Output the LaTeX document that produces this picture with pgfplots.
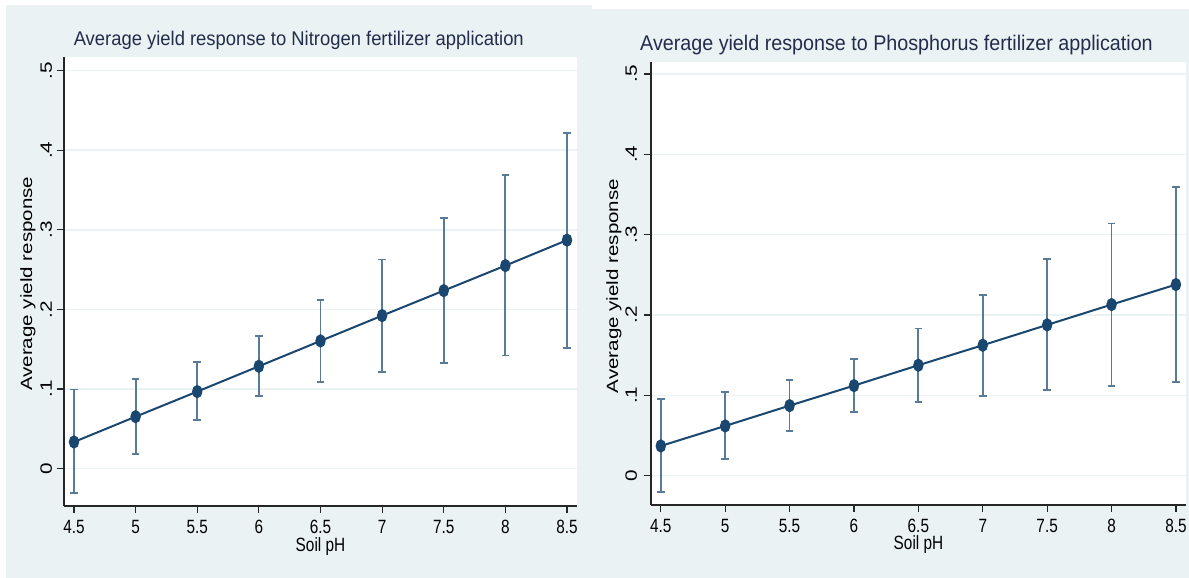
\documentclass[border=0pt]{standalone}
\usepackage{fontspec}
\setmainfont{Liberation Sans}
\newfontfamily\condf{Liberation Sans}[FakeStretch=0.8]
\newfontfamily\titlef{Liberation Sans}[FakeStretch=0.93]
\newfontfamily\widef{Liberation Sans}[FakeStretch=1.26]
\usepackage{pgfplots}
\usepackage{pgfplotstable}
\pgfplotsset{compat=1.18}

\definecolor{stbg}{RGB}{234,242,243}
\definecolor{navy}{RGB}{26,71,111}
\definecolor{ttl}{RGB}{35,45,75}

% Soil pH, mean response, lower and upper bound of the interval
\pgfplotstableread{
ph  mean    lo      hi
4.5 0.0335 -0.0305 0.0993
5.0 0.0653  0.0189 0.1127
5.5 0.0968  0.0612 0.1337
6.0 0.1286  0.0910 0.1671
6.5 0.1604  0.1090 0.2120
7.0 0.1922  0.1215 0.2626
7.5 0.2236  0.1324 0.3150
8.0 0.2550  0.1420 0.3690
8.5 0.2870  0.1516 0.4220
}\nitro

\pgfplotstableread{
ph  mean    lo      hi
4.5 0.0370 -0.0203 0.0955
5.0 0.0619  0.0204 0.1038
5.5 0.0872  0.0557 0.1192
6.0 0.1121  0.0793 0.1457
6.5 0.1375  0.0918 0.1831
7.0 0.1624  0.0996 0.2254
7.5 0.1877  0.1063 0.2693
8.0 0.2130  0.1117 0.3138
8.5 0.2379  0.1167 0.3592
}\phos

\pgfplotsset{
  stata/.style={
    scale only axis,
    axis x line=bottom, axis y line=left,
    axis line style={-, black!85, line width=0.6pt},
    tick align=outside,
    major tick length=3.5pt,
    tick style={black!85, line width=0.6pt},
    xtick={4.5,5,5.5,6,6.5,7,7.5,8,8.5},
    xticklabels={4.5,5,5.5,6,6.5,7,7.5,8,8.5},
    ytick={0,0.1,0.2,0.3,0.4,0.5},
    yticklabels={0,.1,.2,.3,.4,.5},
    ymajorgrids,
    grid style={stbg, line width=0.8pt},
    axis background/.style={fill=white},
    yticklabel style={rotate=90, anchor=south, font=\widef\fontsize{8.2}{9}\selectfont},
    ylabel style={anchor=center, font=\widef\fontsize{8.15}{9}\selectfont},
    xlabel style={anchor=center, font=\condf\fontsize{9.6}{10}\selectfont},
    xticklabel style={font=\condf\fontsize{9.6}{10}\selectfont},
    xlabel={Soil pH},
    ylabel={Average yield response},
  },
  bars/.style={
    only marks, mark=none,
    error bars/.cd, y dir=both, y explicit,
    error mark=|,
    error bar style={draw=navy!72, line width=0.9pt},
    error mark options={draw=navy!72, line width=0.9pt, mark size=1.9pt},
  },
  meanline/.style={
    navy, line width=1pt, mark=*, mark size=2.8pt,
    mark options={xscale=0.75, fill=navy, draw=navy},
  },
}

\begin{document}
\begin{tikzpicture}
\useasboundingbox (0,0) rectangle (594.5pt,289pt);
\fill[white] (0,0) rectangle (594.5pt,289pt);
\fill[stbg] (3pt,0) rectangle (296pt,286.5pt);
\fill[stbg] (296pt,0) rectangle (594.5pt,284.5pt);

\node[font=\titlef\fontsize{9.9}{11}\selectfont, text=ttl] at (149.4pt,269pt)
  {Average yield response to Nitrogen fertilizer application};
\node[font=\titlef\fontsize{10.6}{12}\selectfont, text=ttl] at (448.25pt,266.5pt)
  {Average yield response to Phosphorus fertilizer application};

\begin{axis}[stata,
  at={(32pt,36pt)}, anchor=south west,
  width=256.5pt, height=224.5pt,
  xmin=4.419, xmax=8.581, ymin=-0.0469, ymax=0.517,
  yticklabel shift=-1pt,
  ylabel style={at={(axis description cs:-0.0702,0.495)}},
  xlabel style={at={(axis description cs:0.5,-0.0913)}},
]
\addplot[bars] table[x=ph, y=mean,
  y error plus expr=\thisrow{hi}-\thisrow{mean},
  y error minus expr=\thisrow{mean}-\thisrow{lo}] {\nitro};
\addplot[meanline] table[x=ph, y=mean] {\nitro};
\end{axis}

\begin{axis}[stata,
  at={(325.5pt,36.5pt)}, anchor=south west,
  width=267.5pt, height=221.35pt,
  xmin=4.424, xmax=8.578, ymin=-0.0365, ymax=0.5146,
  ylabel style={at={(axis description cs:-0.0692,0.4947)}},
  xlabel style={at={(axis description cs:0.5,-0.0904)}},
]
\addplot[bars] table[x=ph, y=mean,
  y error plus expr=\thisrow{hi}-\thisrow{mean},
  y error minus expr=\thisrow{mean}-\thisrow{lo}] {\phos};
\addplot[meanline] table[x=ph, y=mean] {\phos};
\end{axis}
\end{tikzpicture}
\end{document}
